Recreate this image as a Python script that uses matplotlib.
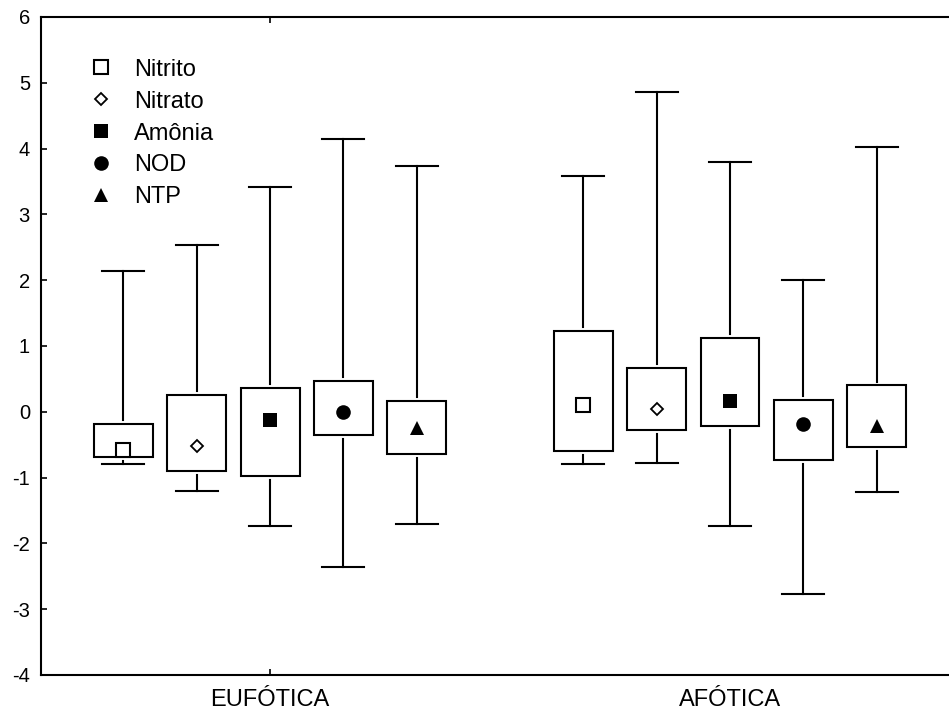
import matplotlib
matplotlib.use("Agg")
import matplotlib.pyplot as plt
from matplotlib.lines import Line2D
from matplotlib.patches import Rectangle

plt.rcParams["font.family"] = ["Liberation Sans", "DejaVu Sans"]
plt.rcParams["axes.unicode_minus"] = False

zones = ["EUFÓTICA", "AFÓTICA"]
variables = ["Nitrito", "Nitrato", "Amônia", "NOD", "NTP"]

# per zone, per variable: centre marker, box (low/high), whiskers (low/high)
centre = [
    [-0.58, -0.52, -0.13, -0.01, -0.24],
    [0.10, 0.05, 0.16, -0.18, -0.22],
]
box_low = [
    [-0.69, -0.90, -0.98, -0.35, -0.64],
    [-0.59, -0.28, -0.22, -0.73, -0.53],
]
box_high = [
    [-0.18, 0.26, 0.36, 0.47, 0.17],
    [1.23, 0.66, 1.12, 0.18, 0.40],
]
whisk_low = [
    [-0.79, -1.20, -1.74, -2.36, -1.71],
    [-0.79, -0.78, -1.74, -2.77, -1.22],
]
whisk_high = [
    [2.14, 2.53, 3.42, 4.14, 3.74],
    [3.58, 4.86, 3.80, 2.00, 4.02],
]

markers = [
    dict(marker="s", ms=9.5, mfc="white", mec="black", mew=1.5),
    dict(marker="D", ms=6.5, mfc="white", mec="black", mew=1.3),
    dict(marker="s", ms=10.5, mfc="black", mec="black", mew=0),
    dict(marker="o", ms=10.5, mfc="black", mec="black", mew=0),
    dict(marker="^", ms=10.5, mfc="black", mec="black", mew=0),
]

fig = plt.figure(figsize=(9.49, 7.10), dpi=100)
ax = fig.add_axes([41 / 949, 1 - 675 / 710, 1 - 41 / 949, (675 - 17) / 710])

step = 0.1594
box_w = 0.128
cap_w = 0.091
gap = 0.06
lw = 1.5

for zi in range(len(zones)):
    for vi in range(len(variables)):
        x = zi + 1 + (vi - 2) * step
        lo, hi = box_low[zi][vi], box_high[zi][vi]
        ax.add_patch(Rectangle((x - box_w / 2, lo), box_w, hi - lo,
                               facecolor="white", edgecolor="black", lw=lw, zorder=2))
        # whiskers stop just short of the box
        ax.plot([x, x], [hi + gap, whisk_high[zi][vi]], color="black", lw=lw, zorder=2)
        ax.plot([x, x], [lo - gap, whisk_low[zi][vi]], color="black", lw=lw, zorder=2)
        for w in (whisk_low[zi][vi], whisk_high[zi][vi]):
            ax.plot([x - cap_w / 2, x + cap_w / 2], [w, w], color="black", lw=lw, zorder=2)
        ax.plot([x], [centre[zi][vi]], ls="none", zorder=3, **markers[vi])

ax.set_xlim(0.502, 2.476)
ax.set_ylim(-4, 6)
ax.set_yticks(range(-4, 7))
ax.set_xticks([1, 2])
ax.set_xticklabels(zones, fontsize=17)
ax.tick_params(axis="y", direction="in", length=4, width=1.2, labelsize=14.5, pad=8, right=False)
ax.tick_params(axis="x", direction="in", length=4, width=1.2, pad=10, top=True)
ax.spines["right"].set_visible(False)
for s in ("left", "top", "bottom"):
    ax.spines[s].set_linewidth(1.5)
fig.canvas.draw()
second = ax.xaxis.get_major_ticks()[1]
second.tick1line.set_visible(False)
second.tick2line.set_visible(False)

handles = [Line2D([], [], ls="none", **m) for m in markers]
ax.legend(handles, variables, loc="upper left", bbox_to_anchor=(0.043, 0.951),
          frameon=False, fontsize=17, handlelength=1.0, handletextpad=0.9,
          labelspacing=0.42, borderaxespad=0)

fig.savefig("out.png", dpi=100)
